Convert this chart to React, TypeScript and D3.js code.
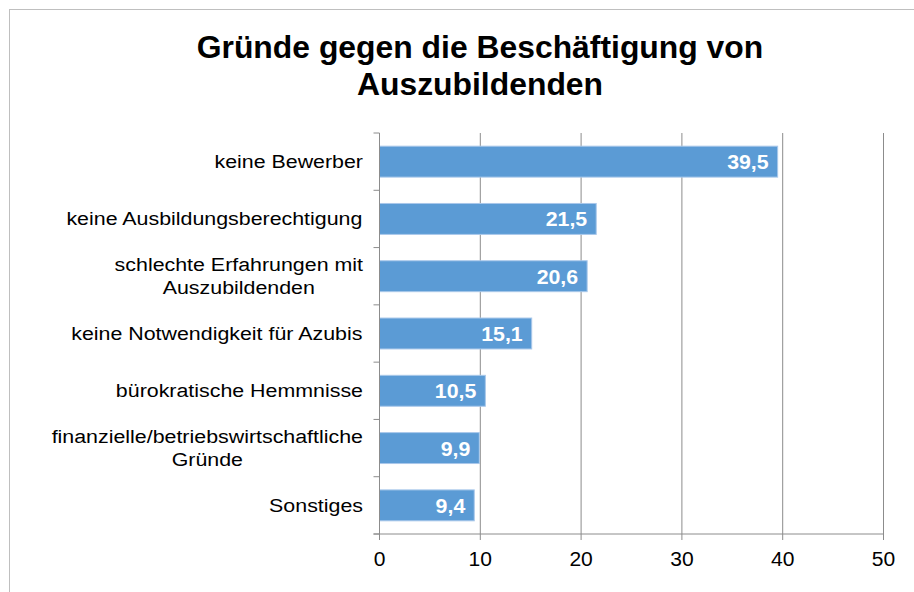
import React from 'react';
import * as d3 from 'd3';

const categories = [
  ['keine Bewerber'],
  ['keine Ausbildungsberechtigung'],
  ['schlechte Erfahrungen mit', 'Auszubildenden'],
  ['keine Notwendigkeit für Azubis'],
  ['bürokratische Hemmnisse'],
  ['finanzielle/betriebswirtschaftliche', 'Gründe'],
  ['Sonstiges'],
];
const values = [39.5, 21.5, 20.6, 15.1, 10.5, 9.9, 9.4];
const xTicks = [0, 10, 20, 30, 40, 50];
const titleLines = ['Gründe gegen die Beschäftigung von', 'Auszubildenden'];

const font = "'Liberation Sans', Arial, Helvetica, sans-serif";

const measure = (() => {
  const ctx = document.createElement('canvas').getContext('2d');
  return (text: string, size: number) => {
    if (!ctx) return text.length * size * 0.5;
    ctx.font = `${size}px ${font}`;
    return ctx.measureText(text).width;
  };
})();

export default function App() {
  const width = 914;
  const height = 592;
  const margin = { top: 133, left: 379.5, right: 30.5, bottom: 58 };
  const labelSize = 18.6;
  const stretch = 1.15; // the original labels are a bit wider than plain Arial

  const x = d3.scaleLinear().domain([0, 50]).range([margin.left, width - margin.right]);
  const y = d3
    .scaleBand<number>()
    .domain(values.map((d, i) => i))
    .range([margin.top, height - margin.bottom])
    .paddingInner(0.46)
    .paddingOuter(0.23);

  const bandStart = margin.top;
  const axisY = height - margin.bottom;
  const boundaries = d3.range(values.length + 1).map((i) => bandStart + i * ((axisY - bandStart) / values.length));

  return (
    <svg width={width} height={height} style={{ position: 'absolute', left: 0, top: 0 }}>
      <rect x={0} y={0} width={width} height={height} fill='#fff' />
      <rect x={9.5} y={9.5} width={width + 20} height={height + 20} fill='none' stroke='#bfbfbf' />

      {titleLines.map((t, i) => (
        <text
          key={`title-${i}`}
          transform={`translate(480,${57.5 + i * 37}) scale(1.045,1)`}
          textAnchor='middle'
          fontFamily={font}
          fontWeight='bold'
          fontSize={30.5}
          fill='#000'
        >
          {t}
        </text>
      ))}

      {/* gridlines */}
      {xTicks.slice(1).map((t) => (
        <line key={`grid-${t}`} x1={x(t)} x2={x(t)} y1={bandStart} y2={axisY} stroke='#8c8c8c' />
      ))}

      {/* bars */}
      {values.map((v, i) => (
        <g key={`bar-${i}`}>
          <rect
            x={x(0)}
            y={y(i)}
            width={x(v) - x(0)}
            height={y.bandwidth()}
            fill='#5b9bd5'
            stroke='#a9c8ea'
            strokeWidth={1}
          />
          <text
            transform={`translate(${x(v) - 9},${(y(i) as number) + y.bandwidth() / 2 + 7.5}) scale(1.04,1)`}
            textAnchor='end'
            fontFamily={font}
            fontWeight='bold'
            fontSize={20.5}
            fill='#fff'
          >
            {String(v).replace('.', ',')}
          </text>
        </g>
      ))}

      {/* y axis */}
      <line x1={x(0)} x2={x(0)} y1={bandStart} y2={axisY} stroke='#8c8c8c' />
      {boundaries.map((b, i) => (
        <line key={`ytick-${i}`} x1={x(0) - 6} x2={x(0)} y1={b} y2={b} stroke='#8c8c8c' />
      ))}

      {/* x axis */}
      <line x1={x(0) - 6} x2={x(50)} y1={axisY} y2={axisY} stroke='#8c8c8c' />
      {xTicks.map((t) => (
        <g key={`xtick-${t}`}>
          <line x1={x(t)} x2={x(t)} y1={axisY} y2={axisY + 6} stroke='#8c8c8c' />
          <text
            transform={`translate(${x(t)},${axisY + 32}) scale(1.08,1)`}
            textAnchor='middle'
            fontFamily={font}
            fontSize={19.5}
            fill='#000'
          >
            {t}
          </text>
        </g>
      ))}

      {/* category labels */}
      {categories.map((lines, i) => {
        const maxW = Math.max(...lines.map((l) => measure(l, labelSize))) * stretch;
        const cx = x(0) - 16.5 - maxW / 2;
        const cy = (y(i) as number) + y.bandwidth() / 2;
        const lineH = 23;
        const first = cy + 6.5 - ((lines.length - 1) * lineH) / 2;
        return (
          <g key={`cat-${i}`}>
            {lines.map((l, j) => (
              <text
                key={j}
                transform={`translate(${cx},${first + j * lineH}) scale(${stretch},1)`}
                textAnchor='middle'
                fontFamily={font}
                fontSize={labelSize}
                fill='#000'
              >
                {l}
              </text>
            ))}
          </g>
        );
      })}
    </svg>
  );
}
